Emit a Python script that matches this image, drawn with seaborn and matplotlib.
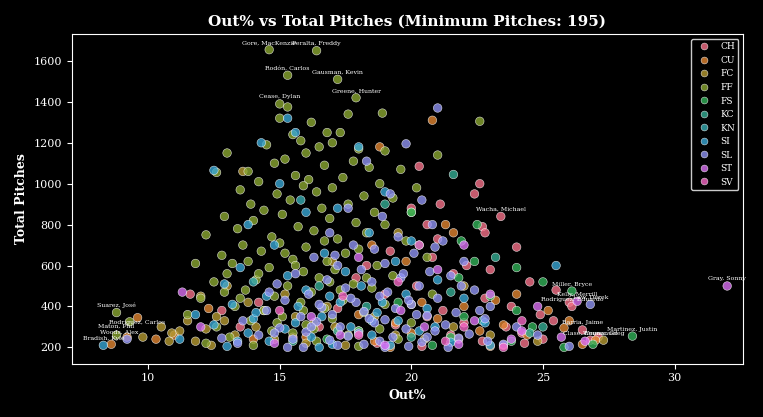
import numpy as np
import pandas as pd
import matplotlib
matplotlib.use("Agg")
import matplotlib.pyplot as plt
import seaborn as sns

# out% / total pitches per primary pitch type
FF = """14.6 1655 16.4 1650 15.3 1530 17.2 1510 17.9 1420 15.0 1390 15.3 1375 18.9 1345 17.6 1340
16.2 1300 15.0 1320 16.8 1250 17.3 1250 15.5 1240 15.8 1210 17.0 1200 14.5 1190 16.5 1180 18.0 1170
19.0 1160 16.0 1150 13.0 1150 15.2 1120 17.8 1110 14.8 1100 16.7 1090 18.4 1080 19.6 1070 13.8 1060
12.6 1055 15.6 1040 17.4 1030 16.1 1020 14.2 1010 18.8 1000 15.9 990 17.0 980 20.2 980 13.5 970
16.4 960 14.9 950 18.2 940 19.3 930 15.4 920 13.9 900 17.6 900 16.6 880 14.4 870 18.6 860 20.0 860
15.1 850 12.9 840 16.9 830 14.0 820 17.9 810 19.0 800 15.7 790 13.4 780 16.3 770 18.3 760 12.2 750
14.7 740 17.2 730 19.8 720 15.0 710 13.6 700 16.0 690 18.0 680 14.3 670 17.5 660 12.8 650 20.6 640
15.5 630 16.8 620 13.2 610 11.8 610 18.7 600 14.6 590 17.1 580 15.9 570 13.0 560 19.3 550 16.5 540
14.1 530 12.5 520 17.8 510 15.3 500 18.5 490 13.7 480 16.2 470 20.8 460 14.8 450 12.0 440 17.4 430
15.8 420 19.0 410 13.3 400 16.7 390 14.4 380 18.2 370 11.5 360 15.1 350 17.0 340 13.9 330 20.0 320
16.0 310 12.6 300 18.8 290 14.7 280 15.5 270 17.6 260 13.1 250 19.5 240 16.4 230 12.2 220 14.0 210
18.0 205 8.8 370 9.3 325 8.8 260 22.6 1305 21.0 1140 14.2 560 15.6 600 16.9 520 13.5 440 15.9 380
14.9 320 16.3 290 17.3 480 12.9 470 18.3 540 15.2 660 16.7 720 13.8 620"""
SL = """21.0 1370 19.8 1195 18.3 1110 19.2 950 20.4 920 17.6 880 18.9 840 20.8 800 16.9 760 19.5 740
21.2 720 17.8 700 18.6 680 20.1 660 16.3 640 22.0 620 19.0 610 17.2 600 18.1 580 20.7 570 15.6 560
21.5 550 19.6 540 16.8 530 18.5 520 14.9 510 20.3 500 17.5 490 22.4 480 19.1 470 16.1 460 18.8 450
21.0 440 15.2 430 17.9 420 20.0 410 23.0 400 16.6 395 19.4 390 14.5 380 18.2 375 21.7 370 17.0 360
20.6 355 15.8 350 22.8 340 19.0 335 13.6 330 16.4 325 18.6 320 21.3 310 17.3 300 24.0 300 15.0 295
19.8 290 20.9 280 16.0 275 18.0 270 22.2 265 14.2 260 17.6 255 19.3 250 21.8 245 15.5 240 16.9 235
18.8 230 20.4 225 13.4 220 23.5 215 17.2 210 19.9 205 15.9 200 21.4 200 12.8 245 9.2 240 24.8 260
26.8 410 26.0 205 14.6 470 17.7 440 19.9 430 22.6 380 20.2 360 18.4 340 16.2 300 14.8 270 20.6 250
22.9 230 18.2 215 16.5 410 19.7 560 21.9 500 17.1 650 20.9 690 15.3 200 19.0 200"""
SI = """15.3 1320 15.6 1250 14.3 1200 18.0 1180 12.5 1065 15.0 1000 19.0 960 17.2 880 16.0 860 13.8 800
18.4 760 20.0 720 14.8 700 16.7 660 19.4 620 13.5 590 17.5 570 15.3 550 21.0 530 12.9 510 18.1 500
16.0 480 19.8 460 14.5 450 22.0 440 17.3 420 13.2 410 15.7 400 20.6 390 18.7 370 11.8 360 16.6 350
14.0 340 19.5 330 22.8 320 12.5 310 17.7 300 15.2 290 20.3 280 13.8 270 18.5 260 16.2 250 11.2 240
14.6 230 21.5 225 17.0 215 19.2 210 13.0 205 25.5 600 23.0 210 8.3 210 16.5 200 14.1 370 16.9 450
18.9 420 20.9 300 13.4 230 15.6 320"""
CH = """20.3 1085 22.6 1000 22.4 950 21.1 900 20.0 880 23.4 840 20.6 800 22.7 790 22.8 760 21.0 730
24.0 690 19.2 670 20.8 640 22.1 600 18.3 600 23.0 580 21.6 560 17.9 540 24.5 520 20.2 500 25.5 480
19.0 460 22.8 440 26.0 420 23.8 400 17.2 390 21.2 380 24.9 360 20.6 350 26.1 400 25.4 330 22.0 320
19.4 310 23.6 300 16.5 300 26.5 285 24.2 270 21.5 260 27.1 250 15.5 250 25.0 240 22.7 230 18.7 220
26.8 235 23.5 210 20.4 205 12.8 380 14.2 420 11.6 460 13.5 300 24.3 220"""
CU = """20.8 1310 18.8 1180 21.3 800 21.6 760 18.5 700 19.8 620 24.0 460 23.2 430 20.4 420 22.0 400
25.2 380 18.0 360 21.0 340 26.0 330 19.4 320 23.5 310 17.2 290 22.6 280 25.8 295 20.0 270 24.4 260
16.0 250 21.8 240 18.6 230 26.5 215 23.0 205 14.0 240 12.3 390 11.0 260 8.6 215 9.2 250 9.6 345
10.3 240 19.2 200 27.0 235"""
FC = """13.0 500 12.0 450 10.5 300 11.2 280 12.6 350 13.8 420 14.4 380 15.6 350 16.3 320 17.1 300
18.0 280 19.4 260 20.5 240 11.8 230 13.3 260 14.8 240 16.0 220 17.5 210 12.4 210 10.8 230 9.8 250
21.6 300 23.0 260 24.8 230 15.2 460 16.8 400 18.6 350 14.1 300 12.9 330 13.6 1060 19.5 760 17.0 620
22.0 500 27.3 235 20.0 410 11.5 330 12.2 290 10.9 270"""
FS = """21.9 720 22.4 620 24.0 590 21.8 540 25.0 520 23.0 450 20.0 860 26.1 475 28.4 255 25.8 200
22.0 350 24.6 300 19.5 420 21.5 250 23.8 230 18.0 280 16.8 240 20.8 210 26.9 215 24.0 380 22.5 800"""
KC = """21.6 1045 19.0 900 20.3 700 23.2 640 21.5 470 18.3 400 22.7 330 17.2 280 20.0 250 24.5 270
15.5 230 16.5 500 25.0 300"""
KN = """15.8 920 18.5 330 14.0 520"""
ST = """32.0 500 26.3 425 23.0 460 21.0 580 18.0 640 19.6 380 22.4 330 24.2 280 25.7 250 20.5 300
17.3 260 26.6 230 21.8 215 23.8 240 19.0 210 14.8 220 12.0 300 16.2 350 24.8 400 22.0 700 11.3 470"""
SV = """20.3 700 19.5 520 22.0 300 18.0 260 21.3 230 17.4 450 23.5 200 15.0 380 24.2 330"""

pitch_types = ["CH", "CU", "FC", "FF", "FS", "KC", "KN", "SI", "SL", "ST", "SV"]
raw = {"CH": CH, "CU": CU, "FC": FC, "FF": FF, "FS": FS, "KC": KC, "KN": KN,
       "SI": SI, "SL": SL, "ST": ST, "SV": SV}

labels = [("Gore, MacKenzie", 14.6, 1655), ("Peralta, Freddy", 16.4, 1650),
          ("Rodón, Carlos", 15.3, 1530), ("Gausman, Kevin", 17.2, 1510),
          ("Greene, Hunter", 17.9, 1420), ("Cease, Dylan", 15.0, 1390),
          ("Wacha, Michael", 23.4, 840), ("Gray, Sonny", 32.0, 500),
          ("Miller, Bryce", 26.1, 475), ("Kelly, Merrill", 26.3, 425),
          ("Law, Derek", 26.8, 410), ("Rodriguez, Eduardo", 26.1, 400),
          ("Barria, Jaime", 26.5, 285), ("Martinez, Justin", 28.4, 255),
          ("Weems, Greg", 27.3, 235), ("Clase, Emmanuel", 26.8, 235),
          ("Suarez, José", 8.8, 370), ("Rodríguez, Carlos", 9.6, 285),
          ("Maton, Phil", 8.8, 270), ("Woods, Alex", 8.9, 240),
          ("Bradish, Kyle", 8.3, 210)]

rows = []
for pt in pitch_types:
    v = np.array(raw[pt].split(), dtype=float).reshape(-1, 2)
    for x, y in v:
        rows.append((pt, x, y))
df = pd.DataFrame(rows, columns=["pitch_type", "out_pct", "pitches"])

plt.style.use("dark_background")
plt.rcParams["font.family"] = "DejaVu Serif"
fig, ax = plt.subplots(figsize=(7.63, 4.17), dpi=100)
fig.patch.set_facecolor("black")
ax.set_facecolor("black")

sns.scatterplot(data=df, x="out_pct", y="pitches", hue="pitch_type",
                hue_order=pitch_types, palette="husl", s=38, alpha=0.8,
                edgecolor="white", linewidth=0.4, ax=ax)

for name, x, y in labels:
    ax.text(x, y + 22, name, fontsize=4.5, color="white", ha="center", va="bottom")

ax.set_xlim(7.1, 32.6)
ax.set_ylim(120, 1730)
ax.set_xlabel("Out%", fontsize=9, fontweight="bold")
ax.set_ylabel("Total Pitches", fontsize=9, fontweight="bold")
ax.set_title("Out% vs Total Pitches (Minimum Pitches: 195)", fontsize=11, fontweight="bold")
ax.tick_params(labelsize=8)
leg = ax.legend(loc="upper right", fontsize=6.5, facecolor="black", edgecolor="white",
                markerscale=0.8)
plt.tight_layout()
plt.savefig("out.png", dpi=100, facecolor="black")
